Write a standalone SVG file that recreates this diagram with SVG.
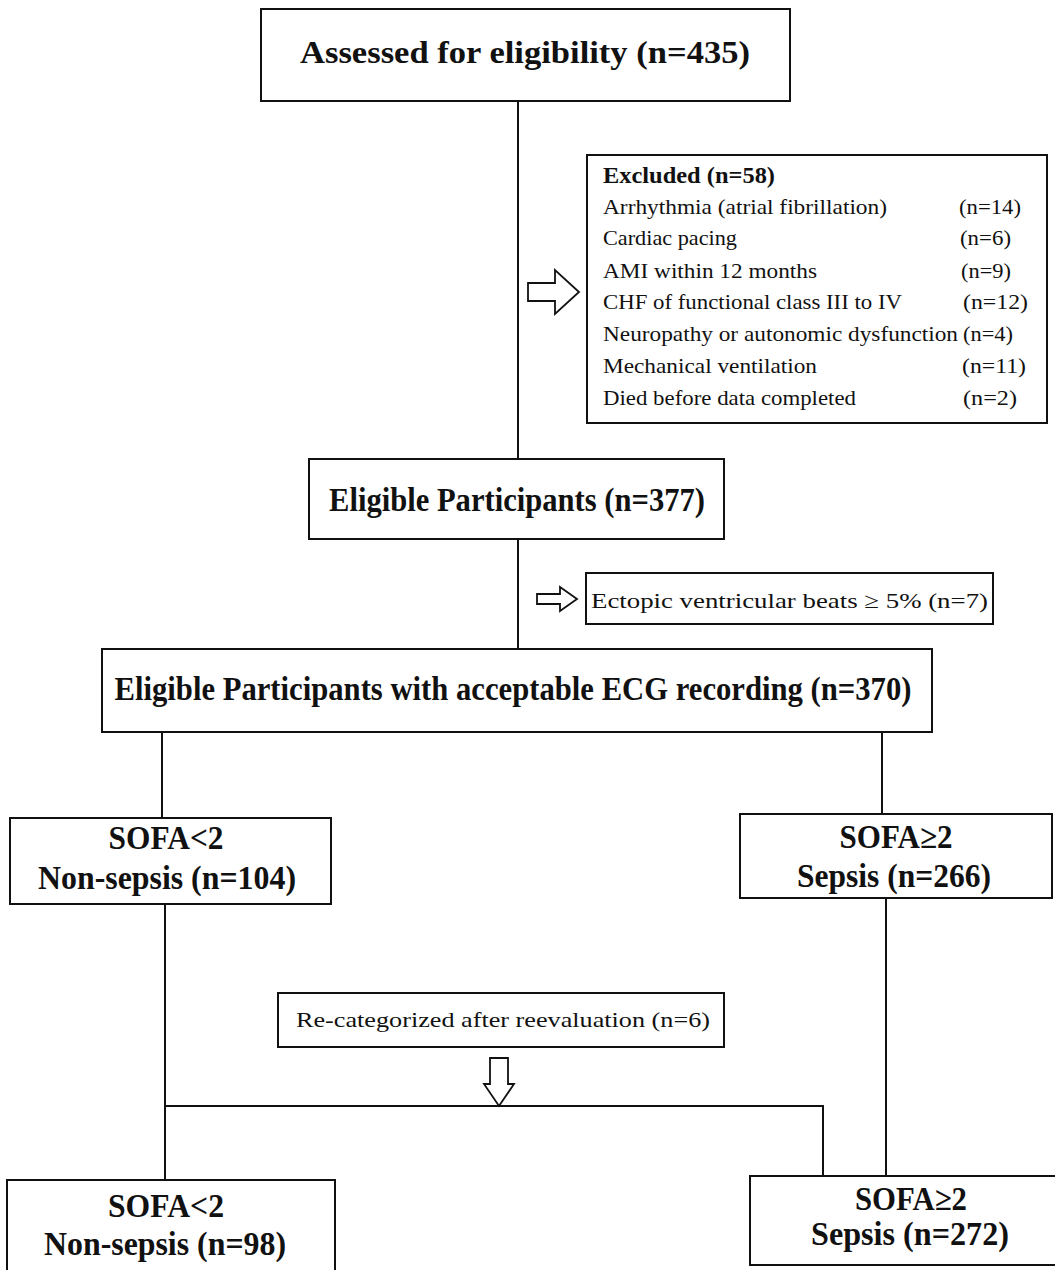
<svg xmlns="http://www.w3.org/2000/svg" width="1055" height="1270" viewBox="0 0 1055 1270">
<style>
.box{fill:#fff;stroke:#111;stroke-width:2}
.ln{fill:none;stroke:#111;stroke-width:2}
.arr{fill:#fff;stroke:#111;stroke-width:1.8;stroke-linejoin:miter}
.b{font-family:"Liberation Serif",serif;font-weight:bold;fill:#111;text-anchor:middle}
.r{font-family:"Liberation Serif",serif;fill:#111;font-size:22px}
</style>
<rect width="1055" height="1270" fill="#fff"/>
<g id="connectors">
<line class="ln" x1="518" y1="101" x2="518" y2="459"/>
<line class="ln" x1="518" y1="539" x2="518" y2="649"/>
<line class="ln" x1="162" y1="732" x2="162" y2="818"/>
<line class="ln" x1="882" y1="732" x2="882" y2="814"/>
<line class="ln" x1="165" y1="904" x2="165" y2="1180"/>
<line class="ln" x1="886" y1="898" x2="886" y2="1176"/>
<polyline class="ln" points="165,1106 823,1106 823,1176"/>
<polygon class="arr" points="528,283 555,283 555,270 579,292 555,314 555,301 528,301"/>
<polygon class="arr" points="537,594 560,594 560,587 577,599 560,611 560,604 537,604"/>
<polygon class="arr" points="490,1058 508,1058 508,1084 514,1084 499,1106 484,1084 490,1084"/>
</g>
<g id="n1">
<rect class="box" x="261" y="9" width="529" height="92"/>
<text class="b" x="525" y="63" font-size="32" textLength="450" lengthAdjust="spacingAndGlyphs">Assessed for eligibility (n=435)</text>
</g>
<g id="excluded">
<rect class="box" x="587" y="155" width="460" height="268"/>
<text x="603" y="183" font-family="Liberation Serif, serif" font-weight="bold" font-size="23" fill="#111" textLength="172" lengthAdjust="spacingAndGlyphs">Excluded (n=58)</text>
<text class="r" x="603" y="214" textLength="284" lengthAdjust="spacingAndGlyphs">Arrhythmia (atrial fibrillation)</text><text class="r" x="959" y="214" textLength="62" lengthAdjust="spacingAndGlyphs">(n=14)</text>
<text class="r" x="603" y="245" textLength="134" lengthAdjust="spacingAndGlyphs">Cardiac pacing</text><text class="r" x="960" y="245" textLength="51" lengthAdjust="spacingAndGlyphs">(n=6)</text>
<text class="r" x="603" y="278" textLength="214" lengthAdjust="spacingAndGlyphs">AMI within 12 months</text><text class="r" x="961" y="278" textLength="50" lengthAdjust="spacingAndGlyphs">(n=9)</text>
<text class="r" x="603" y="309" textLength="299" lengthAdjust="spacingAndGlyphs">CHF of functional class III to IV</text><text class="r" x="963" y="309" textLength="65" lengthAdjust="spacingAndGlyphs">(n=12)</text>
<text class="r" x="603" y="341" textLength="355" lengthAdjust="spacingAndGlyphs">Neuropathy or autonomic dysfunction</text><text class="r" x="963" y="341" textLength="50" lengthAdjust="spacingAndGlyphs">(n=4)</text>
<text class="r" x="603" y="373" textLength="214" lengthAdjust="spacingAndGlyphs">Mechanical ventilation</text><text class="r" x="962" y="373" textLength="64" lengthAdjust="spacingAndGlyphs">(n=11)</text>
<text class="r" x="603" y="405" textLength="253" lengthAdjust="spacingAndGlyphs">Died before data completed</text><text class="r" x="963" y="405" textLength="54" lengthAdjust="spacingAndGlyphs">(n=2)</text>
</g>
<g id="n2">
<rect class="box" x="309" y="459" width="415" height="80"/>
<text class="b" x="517" y="511" font-size="33" textLength="376" lengthAdjust="spacingAndGlyphs">Eligible Participants (n=377)</text>
</g>
<g id="ectopic">
<rect class="box" x="586" y="573" width="407" height="51"/>
<text class="r" x="591" y="608" font-size="24" textLength="397" lengthAdjust="spacingAndGlyphs">Ectopic ventricular beats ≥ 5% (n=7)</text>
</g>
<g id="n3">
<rect class="box" x="102" y="649" width="830" height="83"/>
<text class="b" x="513" y="700" font-size="33" textLength="797" lengthAdjust="spacingAndGlyphs">Eligible Participants with acceptable ECG recording (n=370)</text>
</g>
<g id="n4">
<rect class="box" x="10" y="818" width="321" height="86"/>
<text class="b" x="166" y="849" font-size="33" textLength="115" lengthAdjust="spacingAndGlyphs">SOFA&lt;2</text>
<text class="b" x="167" y="889" font-size="33" textLength="258" lengthAdjust="spacingAndGlyphs">Non-sepsis (n=104)</text>
</g>
<g id="n5">
<rect class="box" x="740" y="814" width="312" height="84"/>
<text class="b" x="896" y="848" font-size="33" textLength="113" lengthAdjust="spacingAndGlyphs">SOFA≥2</text>
<text class="b" x="894" y="887" font-size="33" textLength="194" lengthAdjust="spacingAndGlyphs">Sepsis (n=266)</text>
</g>
<g id="recat">
<rect class="box" x="278" y="993" width="446" height="54"/>
<text class="r" x="503" y="1027" font-size="22" text-anchor="middle" textLength="414" lengthAdjust="spacingAndGlyphs">Re-categorized after reevaluation (n=6)</text>
</g>
<g id="n6">
<rect class="box" x="7" y="1180" width="328" height="95"/>
<text class="b" x="166" y="1217" font-size="33" textLength="116" lengthAdjust="spacingAndGlyphs">SOFA&lt;2</text>
<text class="b" x="165" y="1255" font-size="33" textLength="242" lengthAdjust="spacingAndGlyphs">Non-sepsis (n=98)</text>
</g>
<g id="n7">
<rect class="box" x="750" y="1176" width="310" height="89"/>
<text class="b" x="911" y="1210" font-size="33" textLength="112" lengthAdjust="spacingAndGlyphs">SOFA≥2</text>
<text class="b" x="910" y="1245" font-size="33" textLength="198" lengthAdjust="spacingAndGlyphs">Sepsis (n=272)</text>
</g>
</svg>
